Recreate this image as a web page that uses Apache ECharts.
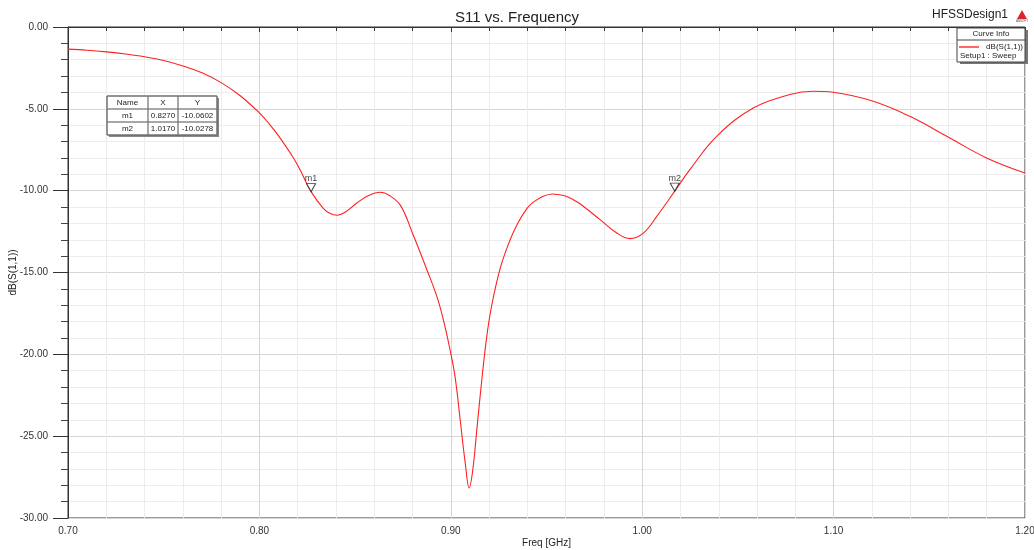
<!DOCTYPE html>
<html>
<head>
<meta charset="utf-8">
<script src="https://cdn.jsdelivr.net/npm/echarts@6/dist/echarts.min.js"></script>
<style>
  html, body { margin: 0; padding: 0; background: #fff; }
  #chart { width: 1034px; height: 550px; }
</style>
</head>
<body>
<div id="chart"></div>
<script>
// S11 sweep
const freqGHz = [0.700, 0.710, 0.720, 0.730, 0.740, 0.750, 0.760, 0.770, 0.780, 0.790,
  0.800, 0.805, 0.810, 0.8178, 0.822, 0.827, 0.8335, 0.837, 0.8405, 0.845,
  0.8509, 0.857, 0.8631, 0.868, 0.8737, 0.880, 0.8875, 0.8927, 0.8961, 0.8996,
  0.9022, 0.9049, 0.9075, 0.9096, 0.9115, 0.9136, 0.9162, 0.9188, 0.9214, 0.9257,
  0.930, 0.9345, 0.9397, 0.9431, 0.948, 0.953, 0.959, 0.964, 0.9675,
  0.978, 0.9867, 0.9936, 1.0006, 1.0076, 1.017, 1.025, 1.0389, 1.058, 1.0772,
  1.0893, 1.0998, 1.1207, 1.1398, 1.1607, 1.1799, 1.200];
const s11dB = [-1.35, -1.42, -1.52, -1.65, -1.82, -2.05, -2.38, -2.80, -3.40, -4.20,
  -5.25, -5.90, -6.65, -8.00, -8.90, -10.06, -11.10, -11.40, -11.50, -11.30,
  -10.75, -10.30, -10.10, -10.30, -10.90, -12.60, -14.83, -16.46, -17.88, -19.72,
  -21.35, -24.00, -26.60, -28.17, -27.05, -24.60, -21.55, -18.90, -17.00, -14.80,
  -13.30, -12.10, -11.10, -10.70, -10.35, -10.20, -10.30, -10.55, -10.80,
  -11.77, -12.59, -12.93, -12.59, -11.57, -10.03, -8.70, -6.68, -4.95, -4.13,
  -3.93, -3.99, -4.54, -5.46, -6.78, -8.00, -8.92];

const markerNames = ['m1', 'm2'];
const markerX = [0.8270, 1.0170];
const markerY = [-10.0602, -10.0278];

const tableHeader = ['Name', 'X', 'Y'];

const font = 'Liberation Sans, Arial, sans-serif';
const chart = echarts.init(document.getElementById('chart'));

// marker table (top-left inside plot)
const tbl = { x: 107, y: 96, colW: [41, 30, 39], rowH: 13 };
const tableEls = [];
const tW = tbl.colW.reduce((a, b) => a + b, 0);
const tH = tbl.rowH * (markerNames.length + 1);
tableEls.push({ type: 'rect', z: 100, shape: { x: tbl.x + 2, y: tbl.y + 2, width: tW, height: tH }, style: { fill: '#888' } });
tableEls.push({ type: 'rect', z: 101, shape: { x: tbl.x, y: tbl.y, width: tW, height: tH }, style: { fill: '#fff', stroke: '#555', lineWidth: 1 } });
const rows = [tableHeader].concat(markerNames.map((n, i) => [n, markerX[i].toFixed(4), markerY[i].toFixed(4)]));
rows.forEach((r, ri) => {
  let cx = tbl.x;
  r.forEach((cell, ci) => {
    tableEls.push({ type: 'rect', z: 102, shape: { x: cx, y: tbl.y + ri * tbl.rowH, width: tbl.colW[ci], height: tbl.rowH }, style: { fill: 'none', stroke: '#777', lineWidth: 0.8 } });
    tableEls.push({ type: 'text', z: 103, x: cx + tbl.colW[ci] / 2, y: tbl.y + ri * tbl.rowH + tbl.rowH / 2,
      style: { text: cell, fill: '#222', font: '8px ' + font, align: 'center', verticalAlign: 'middle' } });
    cx += tbl.colW[ci];
  });
});

chart.setOption({
  backgroundColor: '#fff',
  animation: false,
  title: {
    text: 'S11 vs. Frequency', left: 'center', top: 5,
    textStyle: { fontFamily: font, fontSize: 15, fontWeight: 'normal', color: '#222' }
  },
  grid: { left: 68, right: 9, top: 27, bottom: 32, show: true, borderColor: '#333', borderWidth: 1,
    containLabel: false, outerBoundsMode: 'none' },
  xAxis: {
    type: 'value', min: 0.7, max: 1.2, interval: 0.1,
    name: 'Freq [GHz]', nameLocation: 'middle', nameGap: 20, nameMoveOverlap: false,
    nameTextStyle: { fontFamily: font, fontSize: 10, color: '#222' },
    axisLine: { lineStyle: { color: '#333' } },
    axisTick: { length: 5, lineStyle: { color: '#333' } },
    minorTick: { show: true, splitNumber: 5, length: 4, lineStyle: { color: '#333' } },
    axisLabel: { fontFamily: font, fontSize: 10, color: '#333', margin: 8, formatter: v => v.toFixed(2) },
    splitLine: { lineStyle: { color: '#d6d6d6' } },
    minorSplitLine: { show: true, lineStyle: { color: '#ececec' } }
  },
  yAxis: {
    type: 'value', min: -30, max: 0, interval: 5,
    name: 'dB(S(1,1))', nameLocation: 'middle', nameGap: 50, nameRotate: 90, nameMoveOverlap: false,
    nameTextStyle: { fontFamily: font, fontSize: 10, color: '#222' },
    axisLine: { show: true, lineStyle: { color: '#333' } },
    axisTick: { show: true, length: 15, lineStyle: { color: '#333' } },
    minorTick: { show: true, splitNumber: 5, length: 7, lineStyle: { color: '#444' } },
    axisLabel: { fontFamily: font, fontSize: 10, color: '#333', margin: 20, formatter: v => v.toFixed(2) },
    splitLine: { lineStyle: { color: '#d6d6d6' } },
    minorSplitLine: { show: true, lineStyle: { color: '#ececec' } }
  },
  series: [
    {
      name: 'dB(S(1,1))', type: 'line', smooth: 0.4, showSymbol: false,
      data: freqGHz.map((f, i) => [f, s11dB[i]]),
      lineStyle: { color: '#ff2020', width: 1.1 }, z: 3
    },
    {
      type: 'scatter', symbol: 'triangle', symbolRotate: 180,
      symbolSize: [9, 8], symbolOffset: [0, -4],
      itemStyle: { color: '#fff', borderColor: '#111', borderWidth: 1 },
      label: { show: true, position: 'top', distance: 0, fontFamily: font, fontSize: 9, color: '#111',
        formatter: p => markerNames[p.dataIndex] },
      data: markerX.map((x, i) => [x, markerY[i]]), z: 4
    }
  ],
  graphic: [
    { type: 'text', right: 26, top: 9, z: 100, style: { text: 'HFSSDesign1', font: '12px ' + font, fill: '#222' } },
    { type: 'polygon', z: 100, shape: { points: [[1022, 10], [1017, 19], [1027, 19]] }, style: { fill: '#d9262c' } },
    { type: 'text', z: 100, x: 1022, y: 20, style: { text: 'ANSOFT', font: '3px ' + font, fill: '#555', align: 'center' } },
    // Curve Info box
    { type: 'rect', z: 100, shape: { x: 960, y: 30, width: 68, height: 34 }, style: { fill: '#777' } },
    { type: 'rect', z: 101, shape: { x: 957, y: 28, width: 68, height: 34 }, style: { fill: '#fff', stroke: '#444', lineWidth: 1 } },
    { type: 'line', z: 102, shape: { x1: 957, y1: 40, x2: 1025, y2: 40 }, style: { stroke: '#444', lineWidth: 1 } },
    { type: 'text', z: 102, x: 991, y: 34, style: { text: 'Curve Info', font: '8px ' + font, fill: '#222', align: 'center', verticalAlign: 'middle' } },
    { type: 'line', z: 102, shape: { x1: 959, y1: 47, x2: 979, y2: 47 }, style: { stroke: '#ff0000', lineWidth: 1.2 } },
    { type: 'text', z: 102, x: 1023, y: 47, style: { text: 'dB(S(1,1))', font: '8px ' + font, fill: '#222', align: 'right', verticalAlign: 'middle' } },
    { type: 'text', z: 102, x: 960, y: 56, style: { text: 'Setup1 : Sweep', font: '8px ' + font, fill: '#222', align: 'left', verticalAlign: 'middle' } },
    { type: 'group', children: tableEls }
  ]
});
</script>
</body>
</html>
